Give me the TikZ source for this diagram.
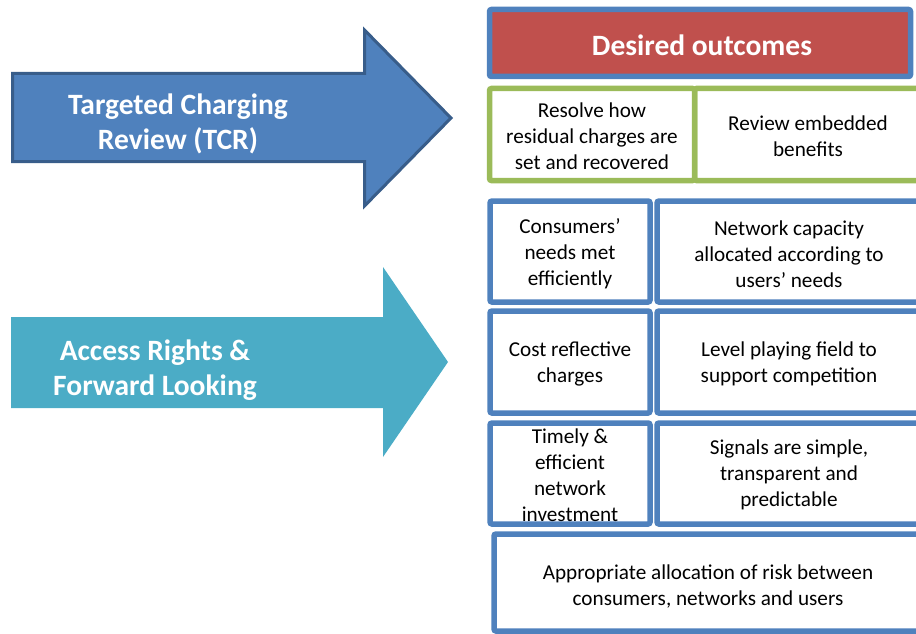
\documentclass[tikz,border=0pt]{standalone}
\usepackage{fontspec}
\setmainfont{Carlito}
\definecolor{hdrred}{HTML}{C0504D}
\definecolor{boxblue}{HTML}{4F81BD}
\definecolor{darkblue}{HTML}{385D8A}
\definecolor{boxgreen}{HTML}{9BBB59}
\definecolor{teal}{HTML}{4BACC6}
\begin{document}
\begin{tikzpicture}[x=1pt,y=-1pt,
  bluebox/.style={draw=boxblue,line width=5.5pt,fill=white,rounded corners=2pt},
  greenbox/.style={draw=boxgreen,line width=5.5pt,fill=white,rounded corners=2pt},
  boxtext/.style={align=center,font=\fontsize{21.2}{26}\selectfont,text=black,inner sep=0pt},
  arrowtext/.style={align=center,font=\fontsize{29.5}{35}\selectfont\bfseries,text=white,inner sep=0pt}]
\useasboundingbox (0,0) rectangle (916,634);
\clip (0,0) rectangle (916,634);
% arrows
\draw[fill=boxblue,draw=darkblue,line width=3pt,line join=miter]
  (12.5,73.5) -- (364.5,73.5) -- (364.5,30) -- (451,118) -- (364.5,206) -- (364.5,161.5) -- (12.5,161.5) -- cycle;
\fill[teal] (11,317) -- (383,317) -- (383,267) -- (448,362) -- (383,457) -- (383,408) -- (11,408) -- cycle;
\node[arrowtext] (tcr) at (178,124) {Targeted Charging\\Review (TCR)};
\node[arrowtext] (arf) at (155,370) {Access Rights \&\\Forward Looking};
% header
\draw[draw=boxblue,line width=5.5pt,fill=hdrred,rounded corners=2pt] (489.5,9.5) rectangle (910.5,76.5);
\node[arrowtext] (hdr) at (702,45) {Desired outcomes};
% green row
\draw[greenbox] (694.5,88.5) rectangle (940,180.5);
\draw[greenbox] (489.5,88.5) rectangle (694.5,180.5);
\node[boxtext] (g1) at (592,136) {Resolve how\\residual charges are\\set and recovered};
\node[boxtext] (g2) at (808,136) {Review embedded\\benefits};
% row 1
\draw[bluebox] (490,201) rectangle (650,302);
\draw[bluebox] (657,201) rectangle (940,302);
\node[boxtext] (r1a) at (570,254) {Consumers’\\needs met\\efficiently};
\node[boxtext] (r1b) at (789,254) {Network capacity\\allocated according to\\users’ needs};
% row 2
\draw[bluebox] (490,311) rectangle (650,413);
\draw[bluebox] (657,311) rectangle (940,413);
\node[boxtext] (r2a) at (570,364) {Cost reflective\\charges};
\node[boxtext] (r2b) at (789,364) {Level playing field to\\support competition};
% row 3
\draw[bluebox] (490,423) rectangle (650,524);
\draw[bluebox] (657,423) rectangle (940,524);
\node[boxtext] (r3a) at (570,475) {Timely \&\\efficient\\network\\investment};
\node[boxtext] (r3b) at (789,475) {Signals are simple,\\transparent and\\predictable};
% row 4
\draw[bluebox] (494,534) rectangle (940,631);
\node[boxtext] (r4) at (708,586) {Appropriate allocation of risk between\\consumers, networks and users};
\end{tikzpicture}
\end{document}
